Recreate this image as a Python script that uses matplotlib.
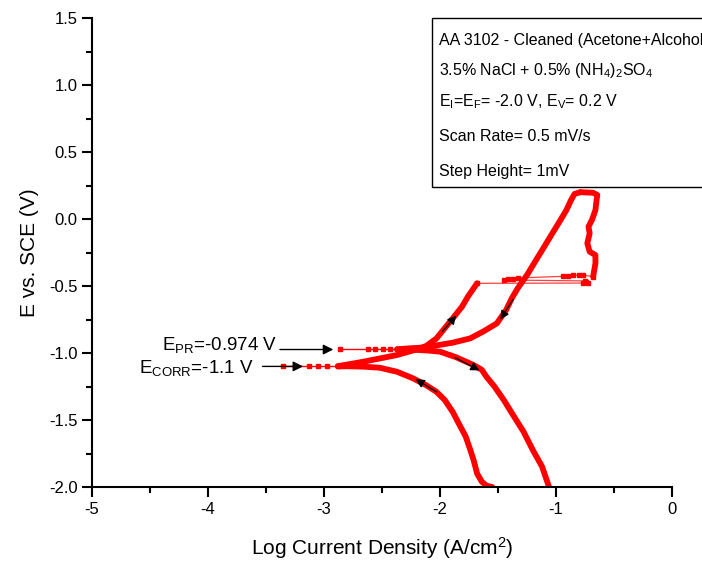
import matplotlib
matplotlib.use('Agg')
import matplotlib.pyplot as plt
from matplotlib.patches import Rectangle
from matplotlib.ticker import MultipleLocator

plt.rcParams['font.family'] = ['Liberation Sans', 'DejaVu Sans']
plt.rcParams['mathtext.fontset'] = 'custom'
plt.rcParams['mathtext.rm'] = 'Liberation Sans'
plt.rcParams['mathtext.it'] = 'Liberation Sans:italic'
plt.rcParams['axes.unicode_minus'] = False

# ---------------- data (log i [A/cm2], E [V vs SCE]) ----------------
# forward scan, cathodic branch (from -2.0 V up to Ecorr)
fwd_cath_x = [-1.55, -1.60, -1.64, -1.68, -1.71, -1.74, -1.78, -1.83, -1.89, -1.96,
              -2.03, -2.12, -2.23, -2.37, -2.52, -2.66, -2.80, -2.88]
fwd_cath_y = [-2.00, -1.99, -1.96, -1.90, -1.80, -1.72, -1.62, -1.54, -1.44, -1.35,
              -1.29, -1.24, -1.19, -1.14, -1.11, -1.102, -1.099, -1.10]
# sparse points around Ecorr
ecorr_tail_x = [-2.88, -2.97, -3.05, -3.13, -3.35]
ecorr_tail_y = [-1.10, -1.10, -1.10, -1.10, -1.10]
# forward scan, anodic branch up to pitting
fwd_anod_x = [-2.88, -2.66, -2.37, -2.20, -2.12, -2.03, -1.96, -1.89, -1.81, -1.76, -1.71, -1.68]
fwd_anod_y = [-1.098, -1.065, -1.015, -0.973, -0.948, -0.891, -0.816, -0.741, -0.654, -0.580, -0.517, -0.480]
# current jumps at the pitting potential
pit_x = [-1.68, -0.77, -0.74, -0.72, -0.75, -1.45, -1.41, -1.37, -1.33,
         -0.94, -0.90, -0.85, -0.80, -0.77, -0.68]
pit_y = [-0.480, -0.478, -0.470, -0.478, -0.462, -0.455, -0.450, -0.445, -0.440,
         -0.428, -0.422, -0.420, -0.418, -0.418, -0.430]
# forward scan above pitting up to the vertex
fwd_pit_x = [-0.68, -0.66, -0.66, -0.71, -0.73, -0.71, -0.72, -0.69, -0.66, -0.65, -0.644, -0.68, -0.79]
fwd_pit_y = [-0.430, -0.331, -0.269, -0.244, -0.182, -0.107, -0.057, -0.007, 0.067, 0.142, 0.179, 0.196, 0.200]
# reverse scan from the vertex down to E_PR
rev_x = [-0.79, -0.84, -0.87, -0.91, -0.97, -1.04, -1.11, -1.18, -1.25, -1.33, -1.38,
         -1.43, -1.51, -1.63, -1.74, -1.89, -2.03, -2.12, -2.26, -2.37]
rev_y = [0.200, 0.187, 0.142, 0.067, -0.020, -0.119, -0.219, -0.318, -0.418, -0.517, -0.590,
         -0.679, -0.779, -0.841, -0.891, -0.923, -0.943, -0.958, -0.965, -0.972]
# sparse points around E_PR
epr_tail_x = [-2.37, -2.43, -2.49, -2.56, -2.62, -2.86]
epr_tail_y = [-0.972, -0.972, -0.972, -0.972, -0.972, -0.972]
# reverse scan, cathodic branch down to -2.0 V
rev_cath_x = [-2.37, -2.20, -2.10, -2.00, -1.86, -1.71, -1.64, -1.60, -1.53, -1.45,
              -1.37, -1.28, -1.20, -1.12, -1.06]
rev_cath_y = [-0.974, -0.977, -0.982, -0.990, -1.032, -1.090, -1.125, -1.177, -1.251, -1.351,
              -1.463, -1.587, -1.724, -1.848, -2.000]

# direction arrows on the curves: (tail, head)
dir_arrows = [((-2.03, -1.29), (-2.21, -1.195)),
              ((-1.98, -0.84), (-1.86, -0.72)),
              ((-1.37, -0.60), (-1.48, -0.75)),
              ((-1.87, -1.035), (-1.66, -1.13))]

E_PR = -0.974
E_CORR = -1.1

xticks = [-5, -4, -3, -2, -1, 0]
yticks = [-2.0, -1.5, -1.0, -0.5, 0.0, 0.5, 1.0, 1.5]

# ---------------- figure ----------------
fig = plt.figure(figsize=(7.02, 5.67), dpi=100)
ax = fig.add_axes([92 / 702, 80 / 567, 580 / 702, 469 / 567])

red = '#ff0000'
thick = dict(color=red, lw=4.2, solid_capstyle='round', solid_joinstyle='round')
thin = dict(color=red, lw=1.0, marker='s', ms=3.2, mec=red, mfc=red)

ax.plot(fwd_cath_x, fwd_cath_y, **thick)
ax.plot(ecorr_tail_x, ecorr_tail_y, **thin)
ax.plot(fwd_anod_x, fwd_anod_y, **thick)
ax.plot(pit_x, pit_y, color=red, lw=0.9, alpha=0.75)
ax.plot(pit_x, pit_y, ls='none', marker='s', ms=3.4, color=red)
ax.plot(fwd_pit_x, fwd_pit_y, **thick)
ax.plot(rev_x, rev_y, **thick)
ax.plot(epr_tail_x, epr_tail_y, **thin)
ax.plot(rev_cath_x, rev_cath_y, **thick)

for tail, head in dir_arrows:
    ax.annotate('', xy=head, xytext=tail,
                arrowprops=dict(arrowstyle='-|>', color='black', lw=0.9,
                                mutation_scale=13, shrinkA=0, shrinkB=0))

# E_PR / E_CORR annotations
ax.annotate('', xy=(-2.92, E_PR), xytext=(-3.38, E_PR),
            arrowprops=dict(arrowstyle='-|>', color='black', lw=1.0,
                            mutation_scale=15, shrinkA=0, shrinkB=0))
ax.annotate('', xy=(-3.18, E_CORR), xytext=(-3.53, E_CORR),
            arrowprops=dict(arrowstyle='-|>', color='black', lw=1.0,
                            mutation_scale=15, shrinkA=0, shrinkB=0))
ax.text(-3.40, -0.978, r'$\mathregular{E_{PR}}$=-0.974 V', ha='right', va='baseline', fontsize=13.5)
ax.text(-3.61, -1.149, r'$\mathregular{E_{CORR}}$=-1.1 V', ha='right', va='baseline', fontsize=13.5)

ax.set_xlim(-5, 0)
ax.set_ylim(-2, 1.5)
ax.set_xticks(xticks)
ax.set_yticks(yticks)
ax.set_xticklabels([f'{v:d}' for v in xticks])
ax.set_yticklabels([f'{v:.1f}' for v in yticks])
ax.xaxis.set_minor_locator(MultipleLocator(0.5))
ax.yaxis.set_minor_locator(MultipleLocator(0.25))
for s in ['top', 'right']:
    ax.spines[s].set_visible(False)
for s in ['left', 'bottom']:
    ax.spines[s].set_linewidth(1.5)
ax.tick_params(which='major', direction='out', length=7, width=1.5, labelsize=12)
ax.tick_params(which='minor', direction='out', length=4, width=1.5)
ax.set_xlabel(r'Log Current Density (A/cm$\mathregular{^2}$)', fontsize=15, labelpad=13)
ax.set_ylabel('E vs. SCE (V)', fontsize=15, labelpad=7)

# info box
fig.add_artist(Rectangle((432 / 702, 1 - 187 / 567), 0.5, (187 - 18) / 567,
                         transform=fig.transFigure, fill=False, edgecolor='black', lw=1.0))
box_lines = ['AA 3102 - Cleaned (Acetone+Alcohol)',
             r'3.5% NaCl + 0.5% (NH$\mathregular{_4}$)$\mathregular{_2}$SO$\mathregular{_4}$',
             r'E$\mathregular{_I}$=E$\mathregular{_F}$= -2.0 V, E$\mathregular{_V}$= 0.2 V',
             'Scan Rate= 0.5 mV/s',
             'Step Height= 1mV']
box_baselines = [45, 75, 106, 141, 176]
for txt, yb in zip(box_lines, box_baselines):
    fig.text(439 / 702, 1 - yb / 567, txt, ha='left', va='baseline', fontsize=11.5)

fig.savefig('out.png', dpi=100)
